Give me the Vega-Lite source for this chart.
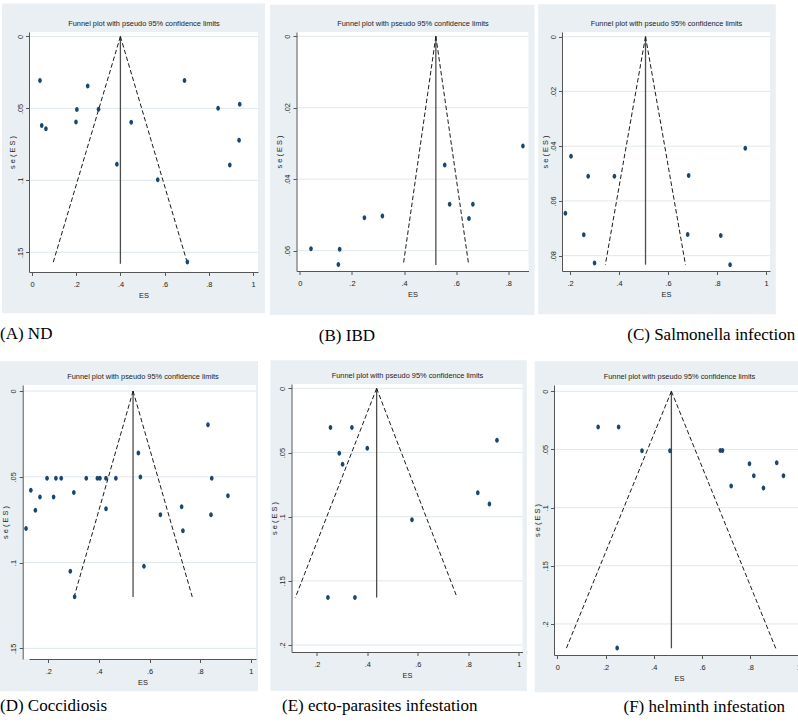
{
  "$schema": "https://vega.github.io/schema/vega-lite/v6.json",
  "padding": {"left": 0, "top": 3, "right": 0, "bottom": 0},
  "background": "white",
  "columns": 3,
  "align": "none",
  "bounds": "full",
  "spacing": {"row": 16, "column": 3.5},
  "datasets": {
    "pts": [
      {"p":"A","ES":0.036,"se":0.0306},{"p":"A","ES":0.044,"se":0.0619},{"p":"A","ES":0.063,"se":0.0642},{"p":"A","ES":0.199,"se":0.0594},{"p":"A","ES":0.203,"se":0.0508},{"p":"A","ES":0.252,"se":0.0345},{"p":"A","ES":0.301,"se":0.0506},{"p":"A","ES":0.384,"se":0.0888},{"p":"A","ES":0.449,"se":0.0596},{"p":"A","ES":0.569,"se":0.0996},{"p":"A","ES":0.690,"se":0.0306},{"p":"A","ES":0.703,"se":0.1567},{"p":"A","ES":0.842,"se":0.0499},{"p":"A","ES":0.895,"se":0.0893},{"p":"A","ES":0.940,"se":0.0472},{"p":"A","ES":0.937,"se":0.0722},
      {"p":"B","ES":0.043,"se":0.0595},{"p":"B","ES":0.153,"se":0.0596},{"p":"B","ES":0.148,"se":0.0639},{"p":"B","ES":0.248,"se":0.0508},{"p":"B","ES":0.317,"se":0.0503},{"p":"B","ES":0.556,"se":0.0360},{"p":"B","ES":0.575,"se":0.0470},{"p":"B","ES":0.664,"se":0.0470},{"p":"B","ES":0.649,"se":0.0510},{"p":"B","ES":0.856,"se":0.0307},
      {"p":"C","ES":0.181,"se":0.0645},{"p":"C","ES":0.204,"se":0.0437},{"p":"C","ES":0.274,"se":0.0510},{"p":"C","ES":0.256,"se":0.0724},{"p":"C","ES":0.300,"se":0.0827},{"p":"C","ES":0.381,"se":0.0510},{"p":"C","ES":0.684,"se":0.0507},{"p":"C","ES":0.680,"se":0.0723},{"p":"C","ES":0.815,"se":0.0726},{"p":"C","ES":0.853,"se":0.0833},{"p":"C","ES":0.915,"se":0.0408},
      {"p":"D","ES":0.112,"se":0.0802},{"p":"D","ES":0.131,"se":0.0579},{"p":"D","ES":0.149,"se":0.0695},{"p":"D","ES":0.167,"se":0.0618},{"p":"D","ES":0.195,"se":0.0509},{"p":"D","ES":0.221,"se":0.0618},{"p":"D","ES":0.230,"se":0.0509},{"p":"D","ES":0.251,"se":0.0509},{"p":"D","ES":0.301,"se":0.0592},{"p":"D","ES":0.287,"se":0.1051},{"p":"D","ES":0.304,"se":0.1199},{"p":"D","ES":0.350,"se":0.0509},{"p":"D","ES":0.394,"se":0.0509},{"p":"D","ES":0.404,"se":0.0509},{"p":"D","ES":0.428,"se":0.0509},{"p":"D","ES":0.428,"se":0.0686},{"p":"D","ES":0.467,"se":0.0509},{"p":"D","ES":0.556,"se":0.0361},{"p":"D","ES":0.564,"se":0.0501},{"p":"D","ES":0.578,"se":0.1022},{"p":"D","ES":0.643,"se":0.0721},{"p":"D","ES":0.727,"se":0.0674},{"p":"D","ES":0.732,"se":0.0814},{"p":"D","ES":0.831,"se":0.0196},{"p":"D","ES":0.846,"se":0.0509},{"p":"D","ES":0.843,"se":0.0721},{"p":"D","ES":0.910,"se":0.0610},
      {"p":"E","ES":0.254,"se":0.0304},{"p":"E","ES":0.339,"se":0.0304},{"p":"E","ES":0.400,"se":0.0467},{"p":"E","ES":0.289,"se":0.0506},{"p":"E","ES":0.302,"se":0.0592},{"p":"E","ES":0.244,"se":0.163},{"p":"E","ES":0.351,"se":0.163},{"p":"E","ES":0.577,"se":0.1023},{"p":"E","ES":0.838,"se":0.0813},{"p":"E","ES":0.884,"se":0.0901},{"p":"E","ES":0.914,"se":0.0405},
      {"p":"F","ES":0.169,"se":0.0307},{"p":"F","ES":0.254,"se":0.0307},{"p":"F","ES":0.351,"se":0.0511},{"p":"F","ES":0.467,"se":0.0511},{"p":"F","ES":0.676,"se":0.0508},{"p":"F","ES":0.685,"se":0.0508},{"p":"F","ES":0.797,"se":0.0622},{"p":"F","ES":0.815,"se":0.0726},{"p":"F","ES":0.721,"se":0.0815},{"p":"F","ES":0.855,"se":0.0832},{"p":"F","ES":0.910,"se":0.0614},{"p":"F","ES":0.938,"se":0.0726},{"p":"F","ES":0.248,"se":0.2206}
    ],
    "fun": [
      {"p":"A","line":"estimate","es0":0.4,"se0":0,"es1":0.4,"se1":0.158},{"p":"A","line":"lower","es0":0.4,"se0":0,"es1":0.094,"se1":0.158},{"p":"A","line":"upper","es0":0.4,"se0":0,"es1":0.704,"se1":0.158},
      {"p":"B","line":"estimate","es0":0.522,"se0":0,"es1":0.522,"se1":0.064},{"p":"B","line":"lower","es0":0.522,"se0":0,"es1":0.397,"se1":0.064},{"p":"B","line":"upper","es0":0.522,"se0":0,"es1":0.648,"se1":0.064},
      {"p":"C","line":"estimate","es0":0.508,"se0":0,"es1":0.508,"se1":0.0833},{"p":"C","line":"lower","es0":0.508,"se0":0,"es1":0.344,"se1":0.0833},{"p":"C","line":"upper","es0":0.508,"se0":0,"es1":0.671,"se1":0.0833},
      {"p":"D","line":"estimate","es0":0.535,"se0":0,"es1":0.535,"se1":0.12},{"p":"D","line":"lower","es0":0.535,"se0":0,"es1":0.302,"se1":0.12},{"p":"D","line":"upper","es0":0.535,"se0":0,"es1":0.769,"se1":0.12},
      {"p":"E","line":"estimate","es0":0.437,"se0":0,"es1":0.437,"se1":0.163},{"p":"E","line":"lower","es0":0.437,"se0":0,"es1":0.115,"se1":0.163},{"p":"E","line":"upper","es0":0.437,"se0":0,"es1":0.756,"se1":0.163},
      {"p":"F","line":"estimate","es0":0.473,"se0":0,"es1":0.473,"se1":0.221},{"p":"F","line":"lower","es0":0.473,"se0":0,"es1":0.037,"se1":0.221},{"p":"F","line":"upper","es0":0.473,"se0":0,"es1":0.906,"se1":0.221}
    ],
    "grid": [
      {"p":"A","v":0},{"p":"A","v":0.05},{"p":"A","v":0.1},{"p":"A","v":0.15},
      {"p":"B","v":0},{"p":"B","v":0.02},{"p":"B","v":0.04},{"p":"B","v":0.06},
      {"p":"C","v":0},{"p":"C","v":0.02},{"p":"C","v":0.04},{"p":"C","v":0.06},{"p":"C","v":0.08},
      {"p":"D","v":0},{"p":"D","v":0.05},{"p":"D","v":0.1},{"p":"D","v":0.15},
      {"p":"E","v":0},{"p":"E","v":0.05},{"p":"E","v":0.1},{"p":"E","v":0.15},{"p":"E","v":0.2},
      {"p":"F","v":0},{"p":"F","v":0.05},{"p":"F","v":0.1},{"p":"F","v":0.15},{"p":"F","v":0.2}
    ]
  },
  "concat": [
    {
      "width": 229, "height": 240,
      "title": {"text": "(A) ND", "dx": -2, "offset": 13},
      "resolve": {"axis": {"x": "independent", "y": "independent"}},
      "layer": [
        {"data": {"values": [{}]}, "mark": {"type": "rect", "color": "#e9eff2"},
         "encoding": {
           "x": {"datum": -0.1357, "type": "quantitative", "scale": {"domain": [-0.0136, 1.0226], "nice": false, "zero": false}, "axis": {"orient": "top", "zindex": 1, "title": "Funnel plot with pseudo 95% confidence limits", "labels": false, "ticks": false, "domain": false, "grid": false, "titlePadding": 5}},
           "x2": {"datum": 1.0543},
           "y": {"datum": -0.0229, "type": "quantitative", "scale": {"domain": [-0.0031, 0.1637], "nice": false, "zero": false, "reverse": true}, "axis": null},
           "y2": {"datum": 0.1924}}},
        {"data": {"values": [{}]}, "mark": {"type": "rect", "color": "white"}, "encoding": {}},
        {"data": {"name": "grid"}, "transform": [{"filter": "datum.p == 'A'"}], "mark": {"type": "rule", "color": "#dfe8ec", "strokeWidth": 1},
         "encoding": {"y": {"field": "v", "type": "quantitative", "scale": {"domain": [-0.0031, 0.1637], "nice": false, "zero": false, "reverse": true}, "axis": null}}},
        {"data": {"name": "fun"}, "transform": [{"filter": "datum.p == 'A' && datum.line == 'estimate'"}], "mark": {"type": "rule", "color": "#4d4d4d", "strokeWidth": 1.3},
         "encoding": {"x": {"field": "es0", "type": "quantitative", "scale": {"domain": [-0.0136, 1.0226], "nice": false, "zero": false}, "axis": null}, "x2": {"field": "es1"},
           "y": {"field": "se0", "type": "quantitative", "scale": {"domain": [-0.0031, 0.1637], "nice": false, "zero": false, "reverse": true}, "axis": null}, "y2": {"field": "se1"}}},
        {"data": {"name": "fun"}, "transform": [{"filter": "datum.p == 'A' && datum.line != 'estimate'"}], "mark": {"type": "rule", "color": "#1a1a1a", "strokeWidth": 1, "strokeDash": [4.5, 2.5]},
         "encoding": {"x": {"field": "es0", "type": "quantitative", "scale": {"domain": [-0.0136, 1.0226], "nice": false, "zero": false}, "axis": null}, "x2": {"field": "es1"},
           "y": {"field": "se0", "type": "quantitative", "scale": {"domain": [-0.0031, 0.1637], "nice": false, "zero": false, "reverse": true}, "axis": null}, "y2": {"field": "se1"}}},
        {"data": {"name": "pts"}, "transform": [{"filter": "datum.p == 'A'"}],
         "mark": {"type": "point", "filled": true, "shape": "M0,-1A0.72,1,0,1,1,0,1A0.72,1,0,1,1,0,-1Z", "size": 25, "color": "#1a476f", "opacity": 1},
         "encoding": {
           "x": {"field": "ES", "type": "quantitative", "scale": {"domain": [-0.0136, 1.0226], "nice": false, "zero": false}, "axis": {"orient": "bottom", "zindex": 1, "domain": true, "values": [0, 0.2, 0.4, 0.6, 0.8, 1], "labelExpr": "replace(format(datum.value, '~g'), '0.', '.')", "title": "ES", "grid": false, "labelFlush": false, "labelOverlap": false}},
           "y": {"field": "se", "type": "quantitative", "scale": {"domain": [-0.0031, 0.1637], "nice": false, "zero": false, "reverse": true}, "axis": {"orient": "left", "zindex": 1, "domain": true, "minExtent": 0, "values": [0, 0.05, 0.1, 0.15], "labelExpr": "replace(format(datum.value, '~g'), '0.', '.')", "labelAngle": -90, "labelAlign": "center", "labelBaseline": "alphabetic", "title": "s e ( E S )", "grid": false}}}}
      ]
    },
    {
      "width": 232, "height": 239,
      "title": {"text": "(B) IBD", "dx": 49, "offset": 13},
      "resolve": {"axis": {"x": "independent", "y": "independent"}},
      "layer": [
        {"data": {"values": [{}]}, "mark": {"type": "rect", "color": "#e9eff2"},
         "encoding": {
           "x": {"datum": -0.1149, "type": "quantitative", "scale": {"domain": [-0.0126, 0.8774], "nice": false, "zero": false}, "axis": {"orient": "top", "zindex": 1, "title": "Funnel plot with pseudo 95% confidence limits", "labels": false, "ticks": false, "domain": false, "grid": false, "titlePadding": 5}},
           "x2": {"datum": 0.9004},
           "y": {"datum": -0.0088, "type": "quantitative", "scale": {"domain": [-0.0012, 0.0657], "nice": false, "zero": false, "reverse": true}, "axis": null},
           "y2": {"datum": 0.078}}},
        {"data": {"values": [{}]}, "mark": {"type": "rect", "color": "white"}, "encoding": {}},
        {"data": {"name": "grid"}, "transform": [{"filter": "datum.p == 'B'"}], "mark": {"type": "rule", "color": "#dfe8ec", "strokeWidth": 1},
         "encoding": {"y": {"field": "v", "type": "quantitative", "scale": {"domain": [-0.0012, 0.0657], "nice": false, "zero": false, "reverse": true}, "axis": null}}},
        {"data": {"name": "fun"}, "transform": [{"filter": "datum.p == 'B' && datum.line == 'estimate'"}], "mark": {"type": "rule", "color": "#4d4d4d", "strokeWidth": 1.3},
         "encoding": {"x": {"field": "es0", "type": "quantitative", "scale": {"domain": [-0.0126, 0.8774], "nice": false, "zero": false}, "axis": null}, "x2": {"field": "es1"},
           "y": {"field": "se0", "type": "quantitative", "scale": {"domain": [-0.0012, 0.0657], "nice": false, "zero": false, "reverse": true}, "axis": null}, "y2": {"field": "se1"}}},
        {"data": {"name": "fun"}, "transform": [{"filter": "datum.p == 'B' && datum.line != 'estimate'"}], "mark": {"type": "rule", "color": "#1a1a1a", "strokeWidth": 1, "strokeDash": [4.5, 2.5]},
         "encoding": {"x": {"field": "es0", "type": "quantitative", "scale": {"domain": [-0.0126, 0.8774], "nice": false, "zero": false}, "axis": null}, "x2": {"field": "es1"},
           "y": {"field": "se0", "type": "quantitative", "scale": {"domain": [-0.0012, 0.0657], "nice": false, "zero": false, "reverse": true}, "axis": null}, "y2": {"field": "se1"}}},
        {"data": {"name": "pts"}, "transform": [{"filter": "datum.p == 'B'"}],
         "mark": {"type": "point", "filled": true, "shape": "M0,-1A0.72,1,0,1,1,0,1A0.72,1,0,1,1,0,-1Z", "size": 25, "color": "#1a476f", "opacity": 1},
         "encoding": {
           "x": {"field": "ES", "type": "quantitative", "scale": {"domain": [-0.0126, 0.8774], "nice": false, "zero": false}, "axis": {"orient": "bottom", "zindex": 1, "domain": true, "values": [0, 0.2, 0.4, 0.6, 0.8], "labelExpr": "replace(format(datum.value, '~g'), '0.', '.')", "title": "ES", "grid": false, "labelFlush": false, "labelOverlap": false}},
           "y": {"field": "se", "type": "quantitative", "scale": {"domain": [-0.0012, 0.0657], "nice": false, "zero": false, "reverse": true}, "axis": {"orient": "left", "zindex": 1, "domain": true, "minExtent": 0, "values": [0, 0.02, 0.04, 0.06], "labelExpr": "replace(format(datum.value, '~g'), '0.', '.')", "labelAngle": -90, "labelAlign": "center", "labelBaseline": "alphabetic", "title": "s e ( E S )", "grid": false}}}}
      ]
    },
    {
      "width": 208, "height": 239,
      "title": {"text": "(C) Salmonella infection", "dx": 89, "offset": 13},
      "resolve": {"axis": {"x": "independent", "y": "independent"}},
      "layer": [
        {"data": {"values": [{}]}, "mark": {"type": "rect", "color": "#e9eff2"},
         "encoding": {
           "x": {"datum": 0.0703, "type": "quantitative", "scale": {"domain": [0.1672, 1.0159], "nice": false, "zero": false}, "axis": {"orient": "top", "zindex": 1, "title": "Funnel plot with pseudo 95% confidence limits", "labels": false, "ticks": false, "domain": false, "grid": false, "titlePadding": 5}},
           "x2": {"datum": 1.0393},
           "y": {"datum": -0.0118, "type": "quantitative", "scale": {"domain": [-0.0017, 0.0856], "nice": false, "zero": false, "reverse": true}, "axis": null},
           "y2": {"datum": 0.1014}}},
        {"data": {"values": [{}]}, "mark": {"type": "rect", "color": "white"}, "encoding": {}},
        {"data": {"name": "grid"}, "transform": [{"filter": "datum.p == 'C'"}], "mark": {"type": "rule", "color": "#dfe8ec", "strokeWidth": 1},
         "encoding": {"y": {"field": "v", "type": "quantitative", "scale": {"domain": [-0.0017, 0.0856], "nice": false, "zero": false, "reverse": true}, "axis": null}}},
        {"data": {"name": "fun"}, "transform": [{"filter": "datum.p == 'C' && datum.line == 'estimate'"}], "mark": {"type": "rule", "color": "#4d4d4d", "strokeWidth": 1.3},
         "encoding": {"x": {"field": "es0", "type": "quantitative", "scale": {"domain": [0.1672, 1.0159], "nice": false, "zero": false}, "axis": null}, "x2": {"field": "es1"},
           "y": {"field": "se0", "type": "quantitative", "scale": {"domain": [-0.0017, 0.0856], "nice": false, "zero": false, "reverse": true}, "axis": null}, "y2": {"field": "se1"}}},
        {"data": {"name": "fun"}, "transform": [{"filter": "datum.p == 'C' && datum.line != 'estimate'"}], "mark": {"type": "rule", "color": "#1a1a1a", "strokeWidth": 1, "strokeDash": [4.5, 2.5]},
         "encoding": {"x": {"field": "es0", "type": "quantitative", "scale": {"domain": [0.1672, 1.0159], "nice": false, "zero": false}, "axis": null}, "x2": {"field": "es1"},
           "y": {"field": "se0", "type": "quantitative", "scale": {"domain": [-0.0017, 0.0856], "nice": false, "zero": false, "reverse": true}, "axis": null}, "y2": {"field": "se1"}}},
        {"data": {"name": "pts"}, "transform": [{"filter": "datum.p == 'C'"}],
         "mark": {"type": "point", "filled": true, "shape": "M0,-1A0.72,1,0,1,1,0,1A0.72,1,0,1,1,0,-1Z", "size": 25, "color": "#1a476f", "opacity": 1},
         "encoding": {
           "x": {"field": "ES", "type": "quantitative", "scale": {"domain": [0.1672, 1.0159], "nice": false, "zero": false}, "axis": {"orient": "bottom", "zindex": 1, "domain": true, "values": [0.2, 0.4, 0.6, 0.8, 1], "labelExpr": "replace(format(datum.value, '~g'), '0.', '.')", "title": "ES", "grid": false, "labelFlush": false, "labelOverlap": false}},
           "y": {"field": "se", "type": "quantitative", "scale": {"domain": [-0.0017, 0.0856], "nice": false, "zero": false, "reverse": true}, "axis": {"orient": "left", "zindex": 1, "domain": true, "minExtent": 0, "values": [0, 0.02, 0.04, 0.06, 0.08], "labelExpr": "replace(format(datum.value, '~g'), '0.', '.')", "labelAngle": -90, "labelAlign": "center", "labelBaseline": "alphabetic", "title": "s e ( E S )", "grid": false}}}}
      ]
    },
    {
      "width": 227, "height": 274,
      "title": {"text": "(D) Coccidiosis", "dx": 0, "offset": 7},
      "resolve": {"axis": {"x": "independent", "y": "independent"}},
      "layer": [
        {"data": {"values": [{}]}, "mark": {"type": "rect", "color": "#e9eff2"},
         "encoding": {
           "x": {"datum": 0.0091, "type": "quantitative", "scale": {"domain": [0.1237, 1.0209], "nice": false, "zero": false}, "axis": {"orient": "top", "zindex": 1, "title": "Funnel plot with pseudo 95% confidence limits", "labels": false, "ticks": false, "domain": false, "grid": false, "titlePadding": 5}},
           "x2": {"datum": 1.0289},
           "y": {"datum": -0.0175, "type": "quantitative", "scale": {"domain": [-0.0035, 0.1562], "nice": false, "zero": false, "reverse": true}, "axis": null},
           "y2": {"datum": 0.175}}},
        {"data": {"values": [{}]}, "mark": {"type": "rect", "color": "white"},
         "encoding": {"x": {"datum": 0.0988, "type": "quantitative", "scale": {"domain": [0.1237, 1.0209], "nice": false, "zero": false}, "axis": null}, "x2": {"datum": 1.0209}}},
        {"data": {"name": "grid"}, "transform": [{"filter": "datum.p == 'D'"}], "mark": {"type": "rule", "color": "#dfe8ec", "strokeWidth": 1},
         "encoding": {"x": {"datum": 0.0988, "type": "quantitative", "scale": {"domain": [0.1237, 1.0209], "nice": false, "zero": false}, "axis": null}, "x2": {"datum": 1.0209},
           "y": {"field": "v", "type": "quantitative", "scale": {"domain": [-0.0035, 0.1562], "nice": false, "zero": false, "reverse": true}, "axis": null}}},
        {"data": {"name": "fun"}, "transform": [{"filter": "datum.p == 'D' && datum.line == 'estimate'"}], "mark": {"type": "rule", "color": "#4d4d4d", "strokeWidth": 1.3},
         "encoding": {"x": {"field": "es0", "type": "quantitative", "scale": {"domain": [0.1237, 1.0209], "nice": false, "zero": false}, "axis": null}, "x2": {"field": "es1"},
           "y": {"field": "se0", "type": "quantitative", "scale": {"domain": [-0.0035, 0.1562], "nice": false, "zero": false, "reverse": true}, "axis": null}, "y2": {"field": "se1"}}},
        {"data": {"name": "fun"}, "transform": [{"filter": "datum.p == 'D' && datum.line != 'estimate'"}], "mark": {"type": "rule", "color": "#1a1a1a", "strokeWidth": 1, "strokeDash": [4.5, 2.5]},
         "encoding": {"x": {"field": "es0", "type": "quantitative", "scale": {"domain": [0.1237, 1.0209], "nice": false, "zero": false}, "axis": null}, "x2": {"field": "es1"},
           "y": {"field": "se0", "type": "quantitative", "scale": {"domain": [-0.0035, 0.1562], "nice": false, "zero": false, "reverse": true}, "axis": null}, "y2": {"field": "se1"}}},
        {"data": {"name": "pts"}, "transform": [{"filter": "datum.p == 'D'"}],
         "mark": {"type": "point", "filled": true, "shape": "M0,-1A0.72,1,0,1,1,0,1A0.72,1,0,1,1,0,-1Z", "size": 25, "color": "#1a476f", "opacity": 1},
         "encoding": {
           "x": {"field": "ES", "type": "quantitative", "scale": {"domain": [0.1237, 1.0209], "nice": false, "zero": false}, "axis": {"orient": "bottom", "zindex": 1, "domain": true, "values": [0.2, 0.4, 0.6, 0.8, 1], "labelExpr": "replace(format(datum.value, '~g'), '0.', '.')", "title": "ES", "grid": false, "labelFlush": false, "labelOverlap": false}},
           "y": {"field": "se", "type": "quantitative", "scale": {"domain": [-0.0035, 0.1562], "nice": false, "zero": false, "reverse": true}, "axis": {"orient": "left", "zindex": 1, "domain": true, "minExtent": 0, "offset": 6.3, "values": [0, 0.05, 0.1, 0.15], "labelExpr": "replace(format(datum.value, '~g'), '0.', '.')", "labelAngle": -90, "labelAlign": "center", "labelBaseline": "alphabetic", "title": "s e ( E S )", "grid": false}}}}
      ]
    },
    {
      "width": 231, "height": 268,
      "title": {"text": "(E) ecto-parasites infestation", "dx": 11.5, "offset": 7},
      "resolve": {"axis": {"x": "independent", "y": "independent"}},
      "layer": [
        {"data": {"values": [{}]}, "mark": {"type": "rect", "color": "#e9eff2"},
         "encoding": {
           "x": {"datum": 0.0163, "type": "quantitative", "scale": {"domain": [0.0996, 1.0151], "nice": false, "zero": false}, "axis": {"orient": "top", "zindex": 1, "title": "Funnel plot with pseudo 95% confidence limits", "labels": false, "ticks": false, "domain": false, "grid": false, "titlePadding": 5}},
           "x2": {"datum": 1.0321},
           "y": {"datum": -0.022, "type": "quantitative", "scale": {"domain": [-0.0034, 0.2054], "nice": false, "zero": false, "reverse": true}, "axis": null},
           "y2": {"datum": 0.2358}}},
        {"data": {"values": [{}]}, "mark": {"type": "rect", "color": "white"}, "encoding": {}},
        {"data": {"name": "grid"}, "transform": [{"filter": "datum.p == 'E'"}], "mark": {"type": "rule", "color": "#dfe8ec", "strokeWidth": 1},
         "encoding": {"y": {"field": "v", "type": "quantitative", "scale": {"domain": [-0.0034, 0.2054], "nice": false, "zero": false, "reverse": true}, "axis": null}}},
        {"data": {"name": "fun"}, "transform": [{"filter": "datum.p == 'E' && datum.line == 'estimate'"}], "mark": {"type": "rule", "color": "#4d4d4d", "strokeWidth": 1.3},
         "encoding": {"x": {"field": "es0", "type": "quantitative", "scale": {"domain": [0.0996, 1.0151], "nice": false, "zero": false}, "axis": null}, "x2": {"field": "es1"},
           "y": {"field": "se0", "type": "quantitative", "scale": {"domain": [-0.0034, 0.2054], "nice": false, "zero": false, "reverse": true}, "axis": null}, "y2": {"field": "se1"}}},
        {"data": {"name": "fun"}, "transform": [{"filter": "datum.p == 'E' && datum.line != 'estimate'"}], "mark": {"type": "rule", "color": "#1a1a1a", "strokeWidth": 1, "strokeDash": [4.5, 2.5]},
         "encoding": {"x": {"field": "es0", "type": "quantitative", "scale": {"domain": [0.0996, 1.0151], "nice": false, "zero": false}, "axis": null}, "x2": {"field": "es1"},
           "y": {"field": "se0", "type": "quantitative", "scale": {"domain": [-0.0034, 0.2054], "nice": false, "zero": false, "reverse": true}, "axis": null}, "y2": {"field": "se1"}}},
        {"data": {"name": "pts"}, "transform": [{"filter": "datum.p == 'E'"}],
         "mark": {"type": "point", "filled": true, "shape": "M0,-1A0.72,1,0,1,1,0,1A0.72,1,0,1,1,0,-1Z", "size": 25, "color": "#1a476f", "opacity": 1},
         "encoding": {
           "x": {"field": "ES", "type": "quantitative", "scale": {"domain": [0.0996, 1.0151], "nice": false, "zero": false}, "axis": {"orient": "bottom", "zindex": 1, "domain": true, "values": [0.2, 0.4, 0.6, 0.8, 1], "labelExpr": "replace(format(datum.value, '~g'), '0.', '.')", "title": "ES", "grid": false, "labelFlush": false, "labelOverlap": false}},
           "y": {"field": "se", "type": "quantitative", "scale": {"domain": [-0.0034, 0.2054], "nice": false, "zero": false, "reverse": true}, "axis": {"orient": "left", "zindex": 1, "domain": true, "minExtent": 0, "values": [0, 0.05, 0.1, 0.15, 0.2], "labelExpr": "replace(format(datum.value, '~g'), '0.', '.')", "labelAngle": -90, "labelAlign": "center", "labelBaseline": "alphabetic", "title": "s e ( E S )", "grid": false}}}}
      ]
    },
    {
      "width": 250, "height": 270,
      "title": {"text": "(F) helminth infestation", "dx": 90.5, "offset": 7},
      "resolve": {"axis": {"x": "independent", "y": "independent"}},
      "layer": [
        {"data": {"values": [{}]}, "mark": {"type": "rect", "color": "#e9eff2"},
         "encoding": {
           "x": {"datum": -0.0942, "type": "quantitative", "scale": {"domain": [-0.0141, 1.0232], "nice": false, "zero": false}, "axis": {"orient": "top", "zindex": 1, "title": "Funnel plot with pseudo 95% confidence limits", "labels": false, "ticks": false, "domain": false, "grid": false, "titlePadding": 5}},
           "x2": {"datum": 1.039},
           "y": {"datum": -0.0261, "type": "quantitative", "scale": {"domain": [-0.0054, 0.2267], "nice": false, "zero": false, "reverse": true}, "axis": null},
           "y2": {"datum": 0.2588}}},
        {"data": {"values": [{}]}, "mark": {"type": "rect", "color": "white"}, "encoding": {}},
        {"data": {"name": "grid"}, "transform": [{"filter": "datum.p == 'F'"}], "mark": {"type": "rule", "color": "#dfe8ec", "strokeWidth": 1},
         "encoding": {"y": {"field": "v", "type": "quantitative", "scale": {"domain": [-0.0054, 0.2267], "nice": false, "zero": false, "reverse": true}, "axis": null}}},
        {"data": {"name": "fun"}, "transform": [{"filter": "datum.p == 'F' && datum.line == 'estimate'"}], "mark": {"type": "rule", "color": "#4d4d4d", "strokeWidth": 1.3},
         "encoding": {"x": {"field": "es0", "type": "quantitative", "scale": {"domain": [-0.0141, 1.0232], "nice": false, "zero": false}, "axis": null}, "x2": {"field": "es1"},
           "y": {"field": "se0", "type": "quantitative", "scale": {"domain": [-0.0054, 0.2267], "nice": false, "zero": false, "reverse": true}, "axis": null}, "y2": {"field": "se1"}}},
        {"data": {"name": "fun"}, "transform": [{"filter": "datum.p == 'F' && datum.line != 'estimate'"}], "mark": {"type": "rule", "color": "#1a1a1a", "strokeWidth": 1, "strokeDash": [4.5, 2.5]},
         "encoding": {"x": {"field": "es0", "type": "quantitative", "scale": {"domain": [-0.0141, 1.0232], "nice": false, "zero": false}, "axis": null}, "x2": {"field": "es1"},
           "y": {"field": "se0", "type": "quantitative", "scale": {"domain": [-0.0054, 0.2267], "nice": false, "zero": false, "reverse": true}, "axis": null}, "y2": {"field": "se1"}}},
        {"data": {"name": "pts"}, "transform": [{"filter": "datum.p == 'F'"}],
         "mark": {"type": "point", "filled": true, "shape": "M0,-1A0.72,1,0,1,1,0,1A0.72,1,0,1,1,0,-1Z", "size": 25, "color": "#1a476f", "opacity": 1},
         "encoding": {
           "x": {"field": "ES", "type": "quantitative", "scale": {"domain": [-0.0141, 1.0232], "nice": false, "zero": false}, "axis": {"orient": "bottom", "zindex": 1, "domain": true, "values": [0, 0.2, 0.4, 0.6, 0.8, 1], "labelExpr": "replace(format(datum.value, '~g'), '0.', '.')", "title": "ES", "grid": false, "labelFlush": false, "labelOverlap": false}},
           "y": {"field": "se", "type": "quantitative", "scale": {"domain": [-0.0054, 0.2267], "nice": false, "zero": false, "reverse": true}, "axis": {"orient": "left", "zindex": 1, "domain": true, "minExtent": 0, "values": [0, 0.05, 0.1, 0.15, 0.2], "labelExpr": "replace(format(datum.value, '~g'), '0.', '.')", "labelAngle": -90, "labelAlign": "center", "labelBaseline": "alphabetic", "title": "s e ( E S )", "grid": false}}}}
      ]
    }
  ],
  "config": {
    "view": {"stroke": null, "fill": "white"},
    "axis": {"labelFont": "Liberation Sans", "titleFont": "Liberation Sans", "labelFontSize": 7.4, "titleFontSize": 7.4, "titleFontWeight": "normal", "labelColor": "#222222", "titleColor": "#222222", "domainColor": "#555555", "tickColor": "#555555", "domainWidth": 1, "tickWidth": 1, "tickSize": 3.5, "labelPadding": 5, "titlePadding": 3.5},
    "axisY": {"labelPadding": 3.5, "titlePadding": 0},
    "title": {"font": "Liberation Serif", "fontSize": 17, "fontWeight": "normal", "color": "#000000", "orient": "bottom", "anchor": "start"}
  }
}
